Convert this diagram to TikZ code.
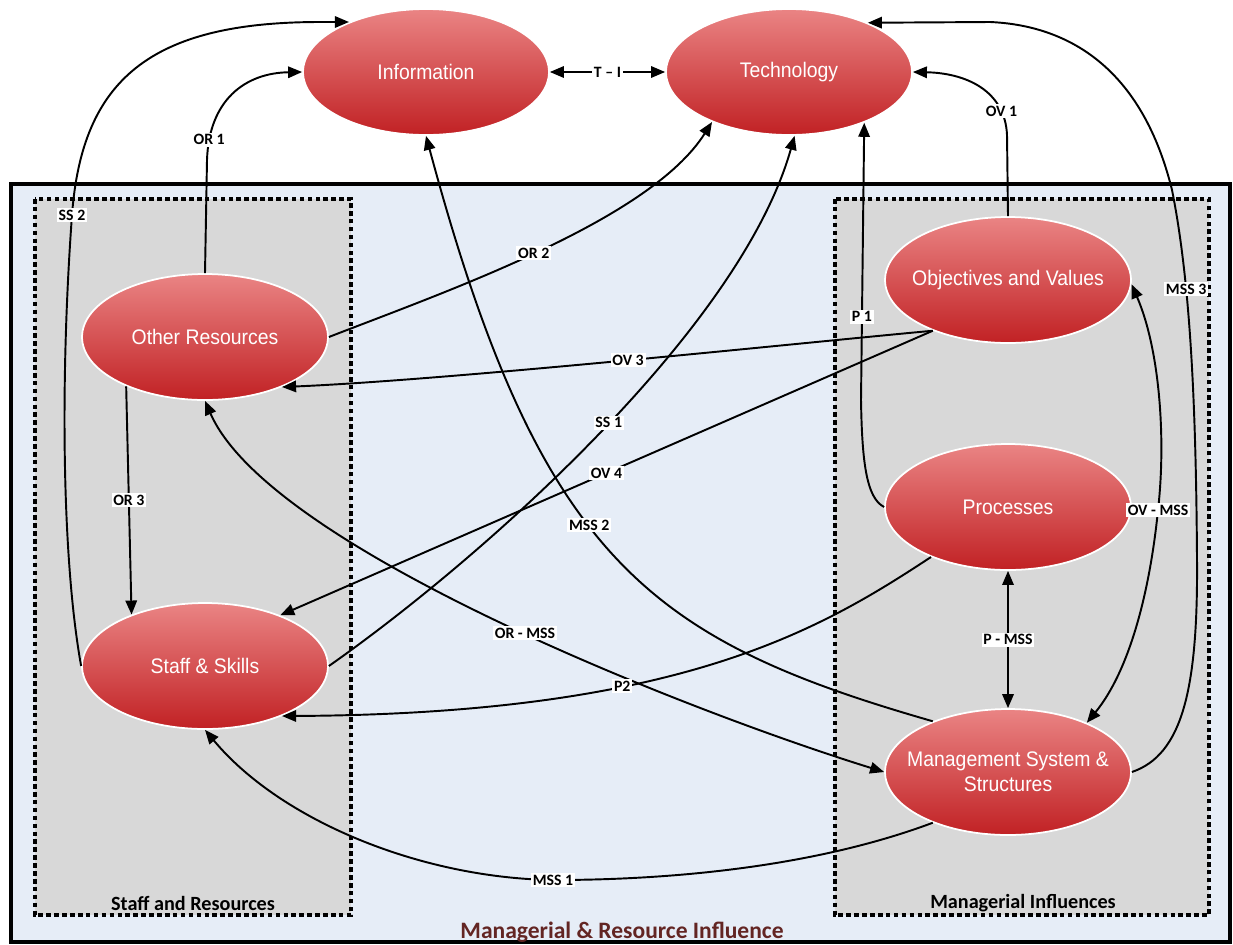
\documentclass[tikz,border=0pt]{standalone}
\usepackage{fontspec}
\setmainfont{Carlito}
\newfontfamily\ellfont[FakeStretch=0.92]{Liberation Sans}
\usetikzlibrary{shapes.geometric, arrows.meta}
\definecolor{mrblue}{RGB}{230,237,247}
\definecolor{mrgray}{RGB}{216,216,216}
\definecolor{mrlight}{RGB}{234,132,132}
\definecolor{mrdark}{RGB}{193,33,36}
\definecolor{mrtitle}{RGB}{99,37,35}
\tikzset{
  %% ---- connectors ----
  link/.style   = {-{Triangle[length=8pt,width=6.5pt]}, line width=1.1pt},
  twoway/.style = {{Triangle[length=8pt,width=6.5pt]}-{Triangle[length=8pt,width=6.5pt]},
                   line width=1.1pt},
  tag/.style    = {fill=white, inner sep=1pt, font=\fontsize{9}{10}\selectfont\bfseries},
}

\begin{document}
\begin{tikzpicture}[
  x=0.02cm, y=-0.02cm,
  factor/.style = {ellipse, draw=white, line width=1pt, top color=mrlight, bottom color=mrdark,
                   minimum width=4.92cm, minimum height=2.52cm, inner xsep=-1.4cm, inner ysep=0pt,
                   align=center, text=white, font=\ellfont\fontsize{12}{14.2}\selectfont},
  group/.style  = {rectangle, draw=black, line width=2pt, dash pattern=on 2.6pt off 1.9pt,
                   fill=mrgray},
  grouplbl/.style = {font=\fontsize{11.5}{13}\selectfont\bfseries}
]
\useasboundingbox (0,0) rectangle (1233,944);
%% ---- frames ----
\draw[line width=1.8pt, fill=mrblue] (11,184) rectangle (1230,942);
\draw[group] (35,199) rectangle (351,915);
\draw[group] (835,199) rectangle (1209,915);
\node[grouplbl] (srlbl) at (193,903) {Staff and Resources};
\node[grouplbl] (milbl) at (1023,903) {Managerial Influences};
\node[font=\fontsize{13.4}{15}\selectfont\bfseries, text=mrtitle] (title) at (622,932)
  {Managerial \& Resource Influence};
%% ---- factors ----
\node[factor] (info)  at (426,72)   {Information};
\node[factor] (tech)  at (789,72)   {Technology};
\node[factor] (res)   at (205,337)  {Other Resources};
\node[factor] (staff) at (205,666)  {Staff \& Skills};
\node[factor] (obj)   at (1008,280) {Objectives and Values};
\node[factor] (proc)  at (1008,507) {Processes};
\node[factor] (mss)   at (1008,772) {Management System \&\\Structures};
%% ---- links ----
\draw[twoway] (info.east) -- node[tag] {T -- I} (tech.west);
\draw[link] (res.north) -- (207,160) .. controls (209,100) and (245,73) .. node[tag, pos=0.12] {OR 1} (info.west);
\draw[link] (staff.west) .. controls (62,560) and (60,380) .. (72,215) node[tag] {SS 2}
  .. controls (82,80) and (150,22) .. (320,22) -- (info.147);
\draw[link] (res.east) .. controls (450,290) and (650,220) .. node[tag, pos=0.48] {OR 2} (tech.213);
\draw[link] (obj.214) .. controls (800,343) and (450,380) .. node[tag, pos=0.49] {OV 3} (res.327);
\draw[link] (obj.214) -- node[tag, pos=0.5] {OV 4} (staff.34);
\draw[link] (staff.east) .. controls (480,560) and (740,330) .. node[tag, pos=0.52] {SS 1} (tech.275);
\draw[link] (mss.146) .. controls (650,640) and (540,560) .. node[tag, pos=0.56] {MSS 2} (info.south);
\draw[twoway] (res.south) .. controls (270,550) and (700,715) .. node[tag, pos=0.53] {OR - MSS} (mss.west);
\draw[link] (proc.213) .. controls (820,630) and (680,714) .. node[tag, pos=0.64] {P2} (staff.327);
\draw[link] (mss.214) .. controls (820,865) and (680,880) .. (553,880) node[tag] {MSS 1}
  .. controls (420,878) and (280,820) .. (staff.south);
\draw[link] (proc.west) .. controls (866,498) and (862,460) .. (861,400) -- node[tag, pos=0.3] {P 1} (tech.326);
\draw[link] (obj.north) -- (1007,135) .. controls (1005,90) and (965,73) .. node[tag, pos=0.2] {OV 1} (tech.east);
\draw[link] (mss.east) .. controls (1182,755) and (1198,690) .. (1197,560)
  .. controls (1196,400) and (1190,280) .. node[tag, pos=0.67] {MSS 3} (1172,190)
  .. controls (1140,60) and (1060,25) .. (990,22) -- (tech.32);
\draw[twoway] (obj.358) .. controls (1160,350) and (1166,440) .. (1158,510) node[tag] {OV - MSS}
  .. controls (1150,590) and (1130,670) .. (mss.32);
\draw[twoway] (proc.south) -- node[tag] {P - MSS} (mss.north);
\draw[link] (res.212) -- node[tag] {OR 3} (staff.145);
\end{tikzpicture}
\end{document}
